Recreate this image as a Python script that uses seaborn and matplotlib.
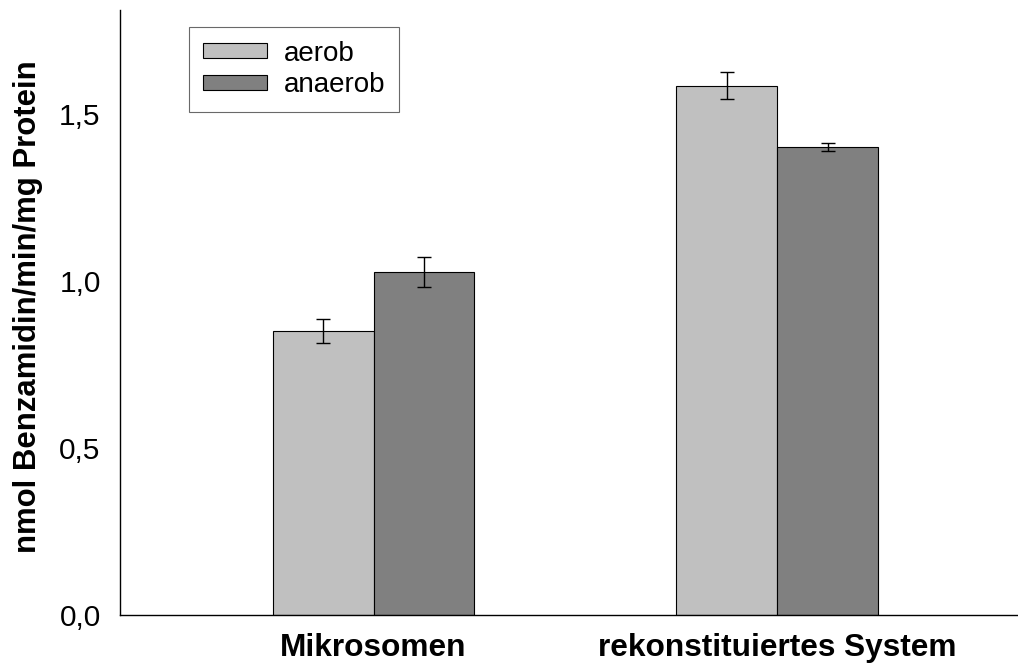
import numpy as np
import pandas as pd
import matplotlib
matplotlib.use("Agg")
import matplotlib.pyplot as plt
import seaborn as sns

# values
systeme = ["Mikrosomen", "rekonstituiertes System"]
bedingungen = ["aerob", "anaerob"]
aerob = [0.850, 1.584]
anaerob = [1.027, 1.401]
aerob_err = [0.035, 0.040]
anaerob_err = [0.045, 0.012]
yticks = [0.0, 0.5, 1.0, 1.5]
ytick_labels = ["0,0", "0,5", "1,0", "1,5"]

sns.set_style("white")
plt.rcParams["font.family"] = ["Liberation Sans", "DejaVu Sans"]
plt.rcParams["text.color"] = "black"
plt.rcParams["axes.labelcolor"] = "black"
plt.rcParams["xtick.color"] = "black"
plt.rcParams["ytick.color"] = "black"

df = pd.DataFrame({
    "System": systeme * 2,
    "Bedingung": ["aerob"] * 2 + ["anaerob"] * 2,
    "Wert": aerob + anaerob,
    "Fehler": aerob_err + anaerob_err,
})

fig = plt.figure(figsize=(10.18, 6.64), dpi=100)
ax = fig.add_axes([0.118, 0.074, 0.882, 0.911])

sns.barplot(data=df, x="System", y="Wert", hue="Bedingung", order=systeme,
            hue_order=bedingungen, palette=["#c0c0c0", "#808080"],
            width=0.5, errorbar=None, edgecolor="black", linewidth=0.8,
            saturation=1, ax=ax)

# error bars on top of the bars seaborn drew
for cont, cond in zip(ax.containers, bedingungen):
    sub = df[df["Bedingung"] == cond].set_index("System").loc[systeme]
    xs = [p.get_x() + p.get_width() / 2 for p in cont.patches]
    ax.errorbar(xs, sub["Wert"], yerr=sub["Fehler"], fmt="none",
                ecolor="black", elinewidth=1, capsize=4.7, capthick=1)

ax.set_xlim(-0.628, 1.597)
ax.set_ylim(0, 1.811)
ax.set_yticks(yticks)
ax.set_yticklabels(ytick_labels, fontsize=21.5)
ax.set_xticks([0, 1])
ax.set_xticklabels(systeme, fontsize=22.8, fontweight="bold")
ax.tick_params(axis="y", direction="out", length=5, width=1, pad=9)
ax.tick_params(axis="x", length=0, pad=13)
ax.set_xlabel("")
ax.set_ylabel("nmol Benzamidin/min/mg Protein", fontsize=22.4,
              fontweight="bold")
ax.yaxis.set_label_coords(-0.086, 0.51)

for s in ["top", "right"]:
    ax.spines[s].set_visible(False)
for s in ["left", "bottom"]:
    ax.spines[s].set_color("black")
    ax.spines[s].set_linewidth(1)

leg = ax.legend(loc="upper left", bbox_to_anchor=(0.077, 0.972), fontsize=20,
                frameon=True, fancybox=False, edgecolor="#444444",
                borderaxespad=0, handlelength=2.3, handleheight=0.45,
                handletextpad=0.6, labelspacing=0.2, borderpad=0.5,
                title=None)
leg.get_frame().set_linewidth(0.8)

fig.savefig("out.png", dpi=100)
